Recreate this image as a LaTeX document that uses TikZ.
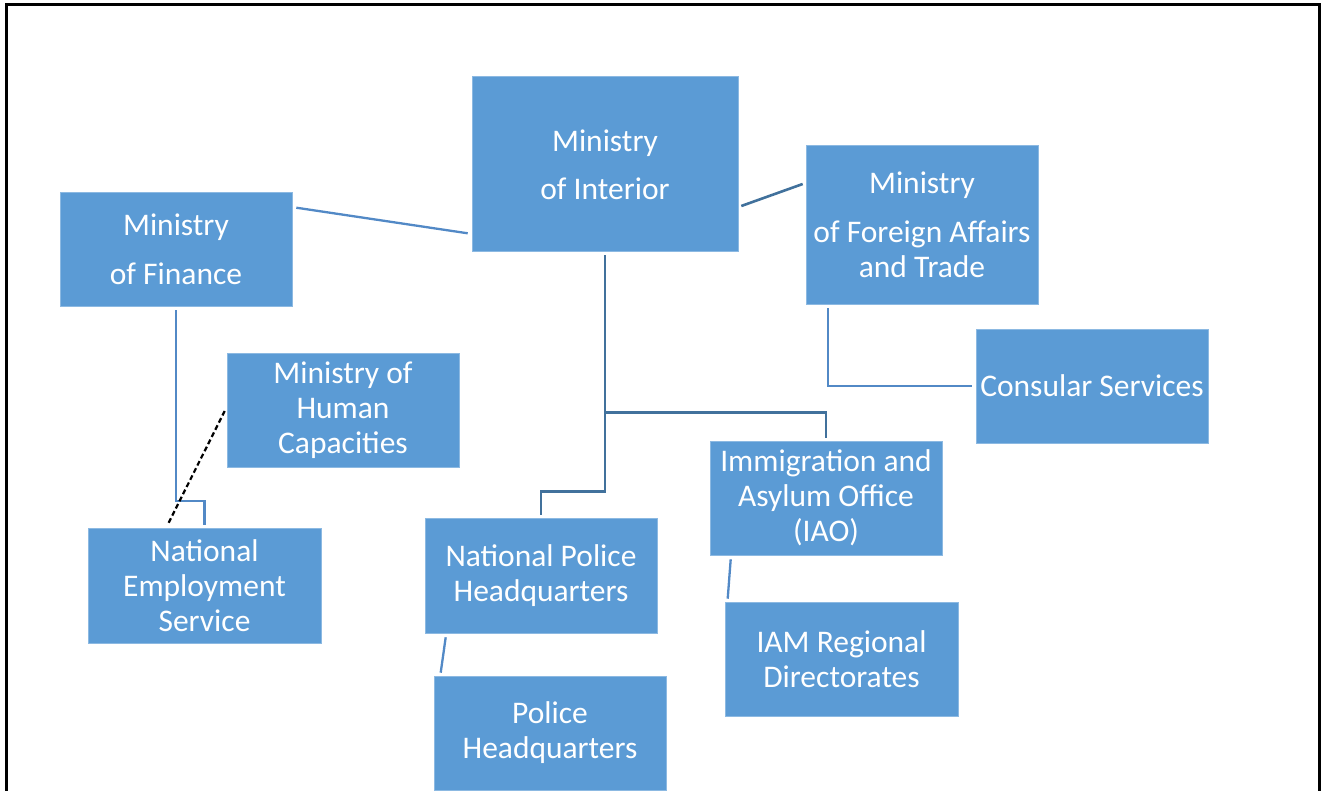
\documentclass[tikz,border=0pt]{standalone}
\usepackage{fontspec}
\setmainfont{Carlito}
\usetikzlibrary{calc}
\definecolor{boxblue}{HTML}{5B9BD5}
\definecolor{linkdark}{HTML}{41719C}
\definecolor{linklight}{HTML}{5289C6}
\tikzset{
  orgbox/.style={fill=boxblue, draw=boxblue!70!white, line width=0.6pt, text=white, align=center,
    inner sep=0pt, font=\fontsize{31.5}{35}\selectfont},
  link/.style={draw=linkdark, line width=2.6pt},
  linklt/.style={draw=linklight, line width=2.3pt},
  dashlink/.style={draw=black, line width=2.2pt, dash pattern=on 5pt off 3pt},
  frameline/.style={draw=black, line width=3pt}
}
\begin{document}
\begin{tikzpicture}[x=1pt,y=-1pt]
\useasboundingbox (0,0) rectangle (1322,791);
\begin{scope}
\clip (0,0) rectangle (1322,791);
\draw[frameline] (6,800) -- (6,5) -- (1319,5) -- (1319,800);

\node[orgbox, minimum width=266pt, minimum height=175pt] (interior) at (605,163.5) {\strut Ministry\\[13pt]of Interior};
\node[orgbox, minimum width=232pt, minimum height=114pt] (finance) at (176,249) {Ministry\\[14pt]of Finance};
\node[orgbox, minimum width=232pt, minimum height=159pt] (foreign) at (922,224.5) {Ministry\\[14pt]of Foreign Affairs\\and Trade};
\node[orgbox, minimum width=232pt, minimum height=114pt] (consular) at (1092,386) {Consular Services};
\node[orgbox, minimum width=232pt, minimum height=114pt] (human) at (343,410) {Ministry of\\Human\\Capacities};
\node[orgbox, minimum width=233pt, minimum height=115pt] (nes) at (204.5,585.5) {National\\Employment\\Service};
\node[orgbox, minimum width=232pt, minimum height=115pt] (nph) at (541,575.5) {National Police\\Headquarters};
\node[orgbox, minimum width=232pt, minimum height=114pt] (iao) at (826,498) {Immigration and\\Asylum Office\\(IAO)};
\node[orgbox, minimum width=233pt, minimum height=114pt] (iam) at (841.5,659) {IAM Regional\\Directorates};
\node[orgbox, minimum width=232pt, minimum height=114pt] (phq) at (550,733) {Police\\Headquarters};

% connectors
\draw[linklt] ($(finance.north east)+(4,16)$) -- ($(interior.south west)+(-4,-18)$);
\draw[link] ($(interior.east)+(3,42.5)$) -- ($(foreign.west)+(-3,-40.5)$);
\draw[link] ([yshift=-4pt]interior.south) |- ($(nph.north)+(0,-26)$) -- ([yshift=3pt]nph.north);
\draw[link] ($(interior.south)+(0,161)$) -| ([yshift=3pt]iao.north);
\draw[linklt] ($(foreign.south west)+(22,4)$) |- ([xshift=-4pt]consular.west);
\draw[linklt] ($(iao.south west)+(21,4)$) -- ($(iam.north west)+(3,-3)$);
\draw[linklt] ($(nph.south west)+(21,4)$) -- ($(phq.north west)+(7,-3)$);
\draw[linklt] ([yshift=-4pt]finance.south) |- ($(nes.north)+(0,-27)$) -- ([yshift=3pt]nes.north);
\draw[dashlink] ($(human.west)+(-2,1)$) -- ($(nes.north west)+(80,-3)$);
\end{scope}
\end{tikzpicture}
\end{document}
